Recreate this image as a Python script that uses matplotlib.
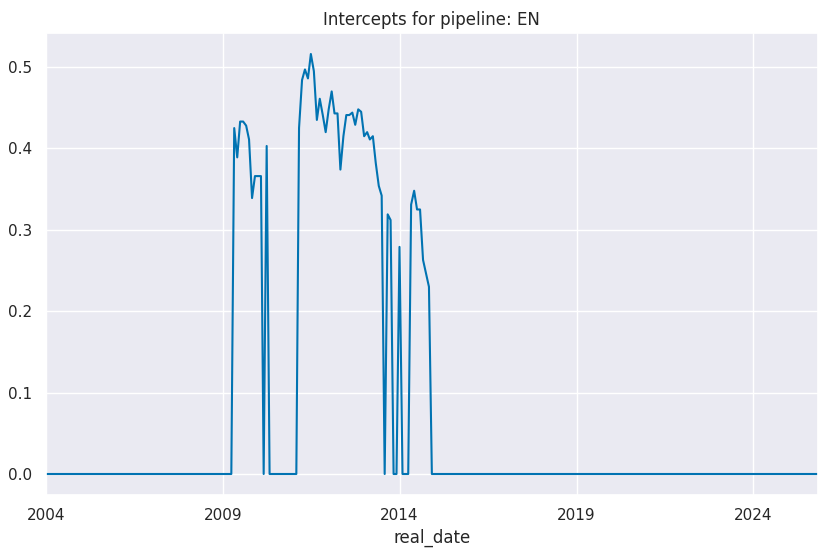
import matplotlib
matplotlib.use("Agg")
import matplotlib.pyplot as plt
import seaborn as sns
import pandas as pd
import numpy as np

sns.set_theme(style="darkgrid", palette="colorblind")

start_date = "2003-12-31"
end_date = "2025-10-31"
active_start = "2009-04-30"
active_values = [0.425, 0.389, 0.433, 0.433, 0.428, 0.411, 0.339, 0.366, 0.366, 0.366, 0.0, 0.403, 0.0,
                 0.0, 0.0, 0.0, 0.0, 0.0, 0.0, 0.0, 0.0, 0.0,
                 0.425, 0.484, 0.497, 0.486, 0.516, 0.495, 0.435, 0.461, 0.441, 0.420, 0.448, 0.470,
                 0.443, 0.443, 0.374, 0.415, 0.441, 0.441, 0.444, 0.429, 0.448, 0.445, 0.415, 0.420,
                 0.411, 0.415, 0.382, 0.354, 0.342, 0.0, 0.319, 0.312, 0.0, 0.0, 0.279, 0.0, 0.0, 0.0,
                 0.331, 0.348, 0.325, 0.325, 0.263, 0.247, 0.230, 0.0]

dates = pd.date_range(start_date, end_date, freq="ME")
s = pd.Series(0.0, index=dates)
adates = pd.date_range(active_start, periods=len(active_values), freq="ME")
s.loc[adates] = active_values

fig, ax = plt.subplots(figsize=(8.29, 5.5), dpi=100)
ax.plot(s.index, s.values, color=sns.color_palette("colorblind")[0], lw=1.5)
ax.set_xlim(dates[0], dates[-1])
ax.set_title("Intercepts for pipeline: EN")
ax.set_xlabel("real_date")
ax.set_xticks(pd.to_datetime(["2004-01-01", "2009-01-01", "2014-01-01", "2019-01-01", "2024-01-01"]))
ax.set_xticklabels(["2004", "2009", "2014", "2019", "2024"])
fig.subplots_adjust(left=0.055, right=0.987, top=0.94, bottom=0.1)
fig.savefig("out.png")
